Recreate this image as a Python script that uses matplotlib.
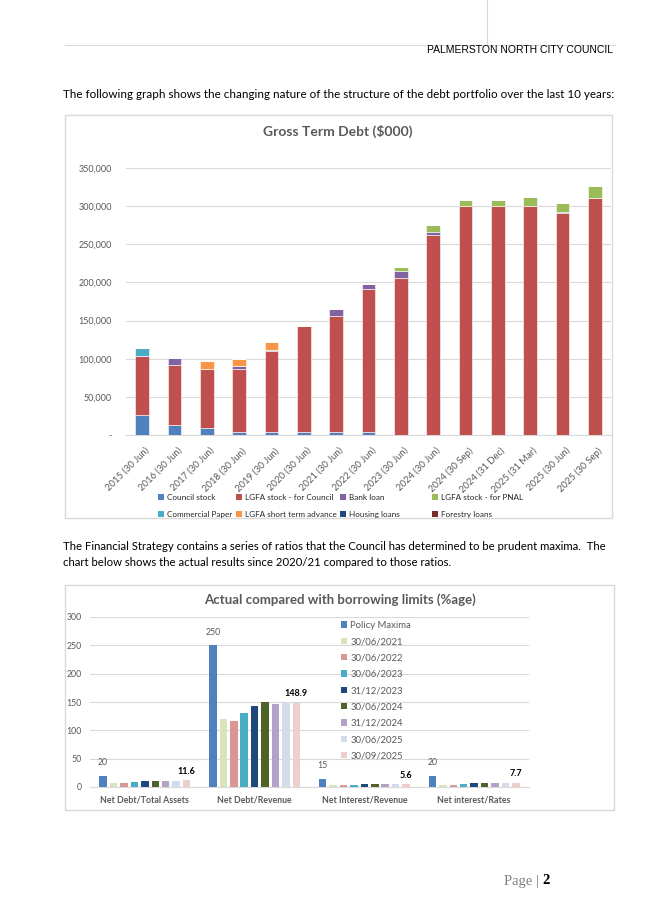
import matplotlib
matplotlib.use("Agg")
import matplotlib.pyplot as plt
from matplotlib.patches import Rectangle, Patch
from matplotlib.lines import Line2D
from matplotlib.ticker import FuncFormatter
import numpy as np

W, H = 645, 924
BODY = "Lato"
GREY = "#595959"

# ---- Gross term debt ($000) ----
periods = ["2015 (30 Jun)", "2016 (30 Jun)", "2017 (30 Jun)", "2018 (30 Jun)",
           "2019 (30 Jun)", "2020 (30 Jun)", "2021 (30 Jun)", "2022 (30 Jun)",
           "2023 (30 Jun)", "2024 (30 Jun)", "2024 (30 Sep)", "2024 (31 Dec)",
           "2025 (31 Mar)", "2025 (30 Jun)", "2025 (30 Sep)"]
council_stock = [26500, 13700, 8800, 4400, 4400, 4400, 4400, 4400, 0, 0, 0, 0, 0, 0, 0]
lgfa_council = [77500, 78000, 78000, 82300, 105300, 138500, 152100, 186800,
                206200, 262000, 299800, 299800, 299800, 291000, 310300]
bank_loan = [0, 9700, 0, 3100, 2300, 0, 8800, 6200, 8300, 4400, 0, 0, 0, 1700, 0]
lgfa_pnal = [0, 0, 0, 0, 0, 0, 0, 0, 5700, 8300, 8300, 8300, 11800, 11900, 16300]
commercial_paper = [10000, 0, 0, 0, 0, 0, 0, 0, 0, 0, 0, 0, 0, 0, 0]
short_term_adv = [0, 0, 10200, 10200, 9700, 0, 0, 0, 0, 0, 0, 0, 0, 0, 0]
housing_loans = [0] * 15
forestry_loans = [0] * 15

debt_series = [("Council stock", council_stock, "#4F81BD"),
               ("LGFA stock - for Council", lgfa_council, "#C0504D"),
               ("Bank loan", bank_loan, "#8064A2"),
               ("LGFA stock - for PNAL", lgfa_pnal, "#9BBB59"),
               ("Commercial Paper", commercial_paper, "#4BACC6"),
               ("LGFA short term advance", short_term_adv, "#F79646"),
               ("Housing loans", housing_loans, "#1F497D"),
               ("Forestry loans", forestry_loans, "#772C2A")]

# ---- Borrowing limit ratios (%) ----
ratios = ["Net Debt/Total Assets", "Net Debt/Revenue", "Net Interest/Revenue", "Net interest/Rates"]
policy_maxima = [20, 250, 15, 20]
jun_2021 = [7.7, 120.4, 3.0, 4.1]
jun_2022 = [7.6, 115.7, 3.0, 4.0]
jun_2023 = [9.1, 130.4, 3.6, 6.0]
dec_2023 = [9.9, 143.3, 5.0, 6.9]
jun_2024 = [10.7, 149.7, 5.2, 7.3]
dec_2024 = [11.4, 146.8, 5.7, 7.6]
jun_2025 = [10.5, 149.7, 5.5, 7.6]
sep_2025 = [11.6, 148.9, 5.6, 7.7]

ratio_series = [("Policy Maxima", policy_maxima, "#4F81BD"),
                ("30/06/2021", jun_2021, "#D7E4BC"),
                ("30/06/2022", jun_2022, "#D99694"),
                ("30/06/2023", jun_2023, "#4BACC6"),
                ("31/12/2023", dec_2023, "#1F497D"),
                ("30/06/2024", jun_2024, "#4F6228"),
                ("31/12/2024", dec_2024, "#B3A2C7"),
                ("30/06/2025", jun_2025, "#D3DCEB"),
                ("30/09/2025", sep_2025, "#EDCFCE")]

fig = plt.figure(figsize=(W / 100, H / 100), dpi=100)
renderer = fig.canvas.get_renderer()


def px_axes(left, top, right, bottom):
    return fig.add_axes([left / W, 1 - bottom / H, (right - left) / W, (bottom - top) / H])


def fit_text(x, y, s, width_px, **kw):
    # scale the font so the string spans the measured width on the page
    t = fig.text(x / W, 1 - y / H, s, **kw)
    w = t.get_window_extent(renderer).width
    t.set_fontsize(t.get_fontsize() * width_px / w)
    return t


# page furniture
fig.add_artist(Line2D([65 / W, 615 / W], [1 - 45 / H] * 2, color="#D9D9D9", lw=0.8))
fig.add_artist(Line2D([487 / W] * 2, [1, 1 - 45 / H], color="#D9D9D9", lw=0.8))
fit_text(427, 50, "PALMERSTON NORTH CITY COUNCIL", 186, family="Liberation Sans",
         fontsize=8, va="center", color="black")
fit_text(63, 95, "The following graph shows the changing nature of the structure of the debt "
         "portfolio over the last 10 years:", 549, family=BODY, fontsize=9, va="center")
p2 = fit_text(63, 547, "The Financial Strategy contains a series of ratios that the Council has "
              "determined to be prudent maxima.  The", 549, family=BODY, fontsize=9, va="center")
fig.text(63 / W, 1 - 563 / H, "chart below shows the actual results since 2020/21 "
         "compared to those ratios.", family=BODY, va="center", fontsize=p2.get_fontsize())
fig.text(542 / W, 1 - 881 / H, "Page | ", family="Liberation Serif", fontsize=10.5,
         color="#7F7F7F", ha="right", va="center")
fig.text(542 / W, 1 - 881 / H, "2", family="Liberation Serif", fontsize=10.5,
         fontweight="bold", ha="left", va="center")

# chart frames
for (x0, y0, x1, y1) in [(65, 115, 612, 518), (65, 585, 614, 810)]:
    fig.add_artist(Rectangle((x0 / W, 1 - y1 / H), (x1 - x0) / W, (y1 - y0) / H,
                             transform=fig.transFigure, fill=False,
                             edgecolor="#D9D9D9", lw=1))

# ---- chart 1: stacked bars ----
ax1 = px_axes(126, 168, 611, 435)
x = np.arange(len(periods))
bottom = np.zeros(len(periods))
handles = []
for name, vals, col in debt_series:
    vals = np.array(vals, dtype=float)
    ax1.bar(x, vals, 0.42, bottom=bottom, color=col, edgecolor="white", linewidth=0.4, zorder=3)
    bottom += vals
    handles.append(Patch(facecolor=col, label=name))
ax1.set_xlim(-0.5, len(periods) - 0.5)
ax1.set_ylim(0, 350000)
ax1.set_yticks(np.arange(0, 350001, 50000))
ax1.yaxis.set_major_formatter(FuncFormatter(lambda v, p: "-" if v == 0 else f"{v:,.0f}"))
ax1.grid(axis="y", color="#D9D9D9", lw=0.8, zorder=0)
for s in ["top", "right", "left"]:
    ax1.spines[s].set_visible(False)
ax1.spines["bottom"].set_color("#D9D9D9")
ax1.set_xticks(x + 0.08)
ax1.set_xticklabels(periods, rotation=45, ha="right", va="top", rotation_mode="anchor",
                    family=BODY, fontsize=6.8, color=GREY)
ax1.tick_params(axis="x", length=0, pad=8)
ax1.tick_params(axis="y", length=0, labelsize=6.5, labelcolor=GREY, pad=10)
for lbl in ax1.get_yticklabels():
    lbl.set_family(BODY)
fig.text(338 / W, 1 - 131 / H, "Gross Term Debt ($000)", family=BODY, fontsize=10,
         fontweight="bold", color=GREY, ha="center", va="center")

# Excel lays the legend out row by row with uneven columns: one small legend per column
col_x = [154, 232, 336, 428]
for c in range(4):
    pair = [handles[c], handles[c + 4]]
    fig.legend(pair, [h.get_label() for h in pair], loc="upper left",
               bbox_to_anchor=(col_x[c] / W, 1 - 490 / H), frameon=False,
               prop={"family": BODY, "size": 5.9}, labelcolor="#262626",
               handlelength=0.7, handleheight=0.7, handletextpad=0.4,
               labelspacing=1.15, borderpad=0)

# ---- chart 2: grouped bars ----
ax2 = px_axes(90, 617, 529, 787)
xc = np.arange(len(ratios))
n = len(ratio_series)
slot = 0.095
bw = 0.068
for i, (name, vals, col) in enumerate(ratio_series):
    pos = xc + (i - (n - 1) / 2) * slot
    bars = ax2.bar(pos, vals, bw, color=col, label=name, zorder=3)
    if i == 0:
        ax2.bar_label(bars, labels=[f"{v:g}" for v in vals], padding=6,
                      family=BODY, fontsize=6.3, color=GREY)
    if i == n - 1:
        ax2.bar_label(bars, labels=[f"{v:g}" for v in vals], padding=3,
                      family=BODY, fontsize=6.5, fontweight="bold", color="black")
ax2.set_xlim(-0.5, len(ratios) - 0.5)
ax2.set_ylim(0, 300)
ax2.set_yticks(np.arange(0, 301, 50))
ax2.grid(axis="y", color="#D9D9D9", lw=0.8, zorder=0)
for s in ["top", "right", "left"]:
    ax2.spines[s].set_visible(False)
ax2.spines["bottom"].set_color("#D9D9D9")
ax2.set_xticks(xc)
ax2.set_xticklabels(ratios, family=BODY, fontsize=6.3, fontweight="bold", color=GREY)
ax2.tick_params(axis="both", length=0, labelsize=6.3, labelcolor=GREY, pad=6)
for lbl in ax2.get_yticklabels():
    lbl.set_family(BODY)
fig.text(340 / W, 1 - 600 / H, "Actual compared with borrowing limits (%age)", family=BODY,
         fontsize=9.5, fontweight="bold", color=GREY, ha="center", va="center")
ax2.legend(loc="upper left", bbox_to_anchor=(336 / W, 1 - 616 / H),
           bbox_transform=fig.transFigure, frameon=False,
           prop={"family": BODY, "size": 6.8}, labelcolor=GREY,
           handlelength=0.65, handleheight=0.65, handletextpad=0.35,
           labelspacing=0.78, borderpad=0)

fig.savefig("out.png", dpi=100)
